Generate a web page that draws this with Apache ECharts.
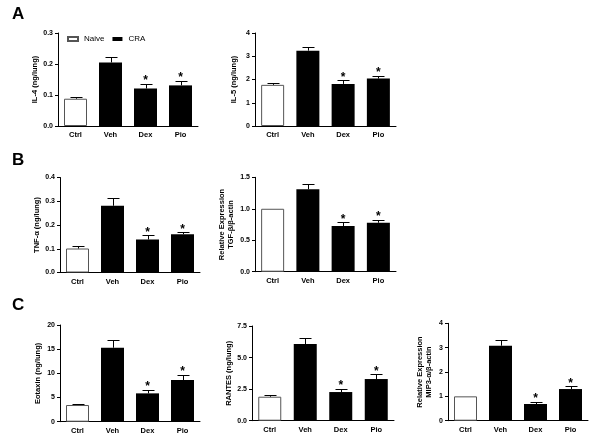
<!DOCTYPE html>
<html><head><meta charset="utf-8">
<script src="https://cdn.jsdelivr.net/npm/echarts@6/dist/echarts.min.js"></script>
<style>html,body{margin:0;padding:0;background:#fff}#c{width:600px;height:443px}</style>
</head><body><div id="c"></div>
<script>
const categories = ['Ctrl', 'Veh', 'Dex', 'Pio'];
const significant = [false, false, true, true];

const il4 = [0.088, 0.205, 0.121, 0.131];
const il4Err = [0.005, 0.018, 0.014, 0.014];
const il5 = [1.77, 3.24, 1.81, 2.04];
const il5Err = [0.08, 0.17, 0.15, 0.13];
const tnf = [0.101, 0.281, 0.139, 0.161];
const tnfErr = [0.010, 0.031, 0.017, 0.008];
const tgf = [1.0, 1.31, 0.725, 0.778];
const tgfErr = [0, 0.09, 0.058, 0.048];
const eotaxin = [3.45, 15.3, 5.86, 8.62];
const eotaxinErr = [0.2, 1.6, 0.69, 1.1];
const rantes = [1.9, 6.07, 2.27, 3.3];
const rantesErr = [0.1, 0.45, 0.24, 0.37];
const mip3 = [1.0, 3.08, 0.685, 1.30];
const mip3Err = [0, 0.24, 0.1, 0.11];

const FONT = 'Liberation Sans, Arial, sans-serif';

const panels = [
  {name: 'IL-4 (ng/lung)', values: il4, errors: il4Err, max: 0.3, interval: 0.1, dec: 1, grid: {left: 58, top: 33, width: 140, height: 93}, gap: 17},
  {name: 'IL-5 (ng/lung)', values: il5, errors: il5Err, max: 4, interval: 1, dec: 0, grid: {left: 255, top: 33, width: 141, height: 93}, gap: 17},
  {name: 'TNF-α (ng/lung)', values: tnf, errors: tnfErr, max: 0.4, interval: 0.1, dec: 1, grid: {left: 60, top: 177.5, width: 140, height: 95}, gap: 18},
  {name: 'Relative Expression\nTGF-β/β-actin', values: tgf, errors: tgfErr, max: 1.5, interval: 0.5, dec: 1, grid: {left: 255, top: 177.3, width: 141, height: 94.4}, gap: 20},
  {name: 'Eotaxin (ng/lung)', values: eotaxin, errors: eotaxinErr, max: 20, interval: 5, dec: 0, grid: {left: 60, top: 325, width: 140, height: 96.7}, gap: 18},
  {name: 'RANTES (ng/lung)', values: rantes, errors: rantesErr, max: 7.5, interval: 2.5, dec: 1, grid: {left: 252, top: 326, width: 142, height: 94.7}, gap: 17},
  {name: 'Relative Expression\nMIP3-α/β-actin', values: mip3, errors: mip3Err, max: 4, interval: 1, dec: 0, grid: {left: 448, top: 323.3, width: 140, height: 97.4}, gap: 15}
];

function errRenderer(params, api) {
  const i = api.value(0), v = api.value(1), e = api.value(2), s = api.value(3);
  const top = api.coord([i, v]);
  const cap = api.coord([i, v + e]);
  const ch = [];
  if (e > 0) {
    const x = Math.round(cap[0]) + 0.5, yc = Math.round(cap[1]) + 0.5;
    ch.push({type: 'line', shape: {x1: x, y1: top[1], x2: x, y2: yc}, style: {stroke: '#000', lineWidth: 1}});
    ch.push({type: 'line', shape: {x1: x - 6, y1: yc, x2: x + 6, y2: yc}, style: {stroke: '#000', lineWidth: 1}});
  }
  if (s) {
    ch.push({type: 'text', style: {text: '*', x: cap[0], y: cap[1] + 3, align: 'center', verticalAlign: 'bottom', font: 'bold 12px ' + FONT, fill: '#000'}});
  }
  return {type: 'group', children: ch};
}

const grids = [], xAxes = [], yAxes = [], series = [];
panels.forEach((p, k) => {
  grids.push(Object.assign({containLabel: false}, p.grid));
  xAxes.push({
    type: 'category', gridIndex: k, data: categories,
    axisLine: {lineStyle: {color: '#000', width: 1}},
    axisTick: {show: false},
    axisLabel: {color: '#000', fontSize: 7.5, fontWeight: 'bold', fontFamily: FONT, margin: 5}
  });
  yAxes.push({
    type: 'value', gridIndex: k, min: 0, max: p.max, interval: p.interval,
    name: p.name, nameLocation: 'middle', nameGap: p.gap, nameRotate: 90,
    nameTextStyle: {color: '#000', fontSize: 7.5, fontWeight: 'bold', fontFamily: FONT, lineHeight: 9},
    axisLine: {show: true, lineStyle: {color: '#000', width: 1}},
    axisTick: {show: true, length: 3, lineStyle: {color: '#000'}},
    splitLine: {show: false},
    axisLabel: {color: '#000', fontSize: 7, fontWeight: 'bold', fontFamily: FONT, margin: 5,
      formatter: v => v.toFixed(p.dec)}
  });
  series.push({
    type: 'bar', name: 'Naive', xAxisIndex: k, yAxisIndex: k, barWidth: 23, barGap: '-100%',
    data: p.values.map((v, i) => i === 0 ? v : '-'),
    itemStyle: {color: '#fff', borderColor: '#555', borderWidth: 1}, silent: true
  });
  series.push({
    type: 'bar', name: 'CRA', xAxisIndex: k, yAxisIndex: k, barWidth: 23, barGap: '-100%',
    data: p.values.map((v, i) => i === 0 ? '-' : v),
    itemStyle: {color: '#000'}, silent: true
  });
  series.push({
    type: 'custom', xAxisIndex: k, yAxisIndex: k, z: 5, silent: true,
    renderItem: errRenderer,
    data: p.values.map((v, i) => [i, v, p.errors[i], significant[i] ? 1 : 0])
  });
});

const chart = echarts.init(document.getElementById('c'), null, {renderer: 'canvas'});
chart.setOption({
  animation: false,
  backgroundColor: '#fff',
  title: [
    {text: 'A', left: 12, top: 6, padding: 0, textStyle: {fontSize: 17, fontWeight: 'bold', fontFamily: FONT, color: '#000'}},
    {text: 'B', left: 12, top: 152, padding: 0, textStyle: {fontSize: 17, fontWeight: 'bold', fontFamily: FONT, color: '#000'}},
    {text: 'C', left: 12, top: 297, padding: 0, textStyle: {fontSize: 17, fontWeight: 'bold', fontFamily: FONT, color: '#000'}}
  ],
  legend: {
    data: ['Naive', 'CRA'], left: 67, top: 35, padding: 0, itemWidth: 10, itemHeight: 4, itemGap: 8, icon: 'rect',
    textStyle: {fontSize: 8, fontFamily: FONT, color: '#000', padding: [0, 0, 0, 1]}, selectedMode: false
  },
  grid: grids, xAxis: xAxes, yAxis: yAxes, series: series
});
</script></body></html>
